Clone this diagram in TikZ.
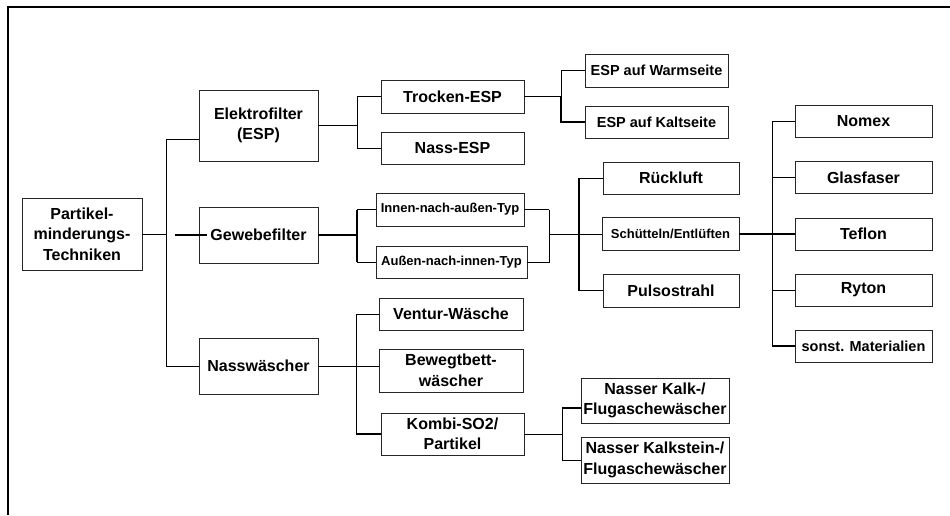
\documentclass[tikz,border=0pt]{standalone}
\usepackage{fontspec}
\setmainfont{Liberation Sans}
\tikzset{
  box/.style={draw=black!85,line width=.9pt,inner sep=0pt,align=center,font=\fontsize{16}{20.5}\selectfont\bfseries},
  boxm/.style={box,font=\fontsize{14.5}{18}\selectfont\bfseries},
  boxs/.style={box,font=\fontsize{13}{16}\selectfont\bfseries},
  ln/.style={line width=.8pt},
  tk/.style={line width=1.6pt}
}
\begin{document}
\begin{tikzpicture}[x=1pt,y=-1pt]
\useasboundingbox (0,0) rectangle (950,515);
\draw[line width=1.8pt] (8,515) -- (8,7) -- (950,7);
\node[box,minimum width=120,minimum height=72] (root) at (82,234) {Partikel-\\minderungs-\\Techniken};
\node[box,minimum width=119,minimum height=71] (elek) at (258.5,125.5) {Elektrofilter\\(ESP)};
\node[box,minimum width=119,minimum height=56] (gewebe) at (258.5,235) {Gewebefilter};
\node[box,minimum width=119,minimum height=56] (nass) at (258.5,366) {Nassw\"ascher};
\node[box,minimum width=143,minimum height=33] (trocken) at (452.5,96.5) {Trocken-ESP};
\node[box,minimum width=143,minimum height=32] (nesp) at (452.5,148) {Nass-ESP};
\node[boxm,minimum width=143,minimum height=33] (warm) at (656.5,70.5) {ESP auf Warmseite};
\node[boxm,minimum width=143,minimum height=32] (kalt) at (656.5,122) {ESP auf Kaltseite};
\node[boxs,minimum width=148,minimum height=33] (innen) at (450,209.5) {Innen-nach-au\ss en-Typ};
\node[boxs,minimum width=151,minimum height=32] (aussen) at (451.5,262) {Au\ss en-nach-innen-Typ};
\node[box,minimum width=136,minimum height=32] (rueck) at (671,178) {R\"uckluft};
\node[boxs,minimum width=137,minimum height=33] (schuett) at (670.5,234) {Sch\"utteln/Entl\"uften};
\node[box,minimum width=136,minimum height=33] (puls) at (671,290.5) {Pulsostrahl};
\foreach \n/\t/\y in {nomex/Nomex/121,glas/Glasfaser/177.5,teflon/Teflon/234,ryton/Ryton/290}
  \node[box,minimum width=137,minimum height=32] (\n) at (863.5,\y) {\t};
\node[boxm,minimum width=137,minimum height=32] (sonst) at (863.5,346) {sonst. Materialien};
\node[box,minimum width=144,minimum height=32] (ventur) at (451,314) {Ventur-W\"asche};
\node[box,minimum width=144,minimum height=43] (bewegt) at (451,370.5) {Bewegtbett-\\w\"ascher};
\node[box,minimum width=143,minimum height=42] (kombi) at (452.5,434) {Kombi-SO2/\\Partikel};
\node[box,minimum width=148,minimum height=45] (kalk) at (655,400.5) {Nasser Kalk-/\\Flugaschew\"ascher};
\node[box,minimum width=148,minimum height=46] (kalkst) at (655,460) {Nasser Kalkstein-/\\Flugaschew\"ascher};
\coordinate (tr1) at (166,139);
\coordinate (tr2) at (166,366);
\coordinate (gw0) at (175,235);
\coordinate (j1) at (357,122);
\coordinate (j2) at (561,96.5);
\coordinate (j3) at (357,235);
\coordinate (j4) at (549,234);
\coordinate (j5) at (579,234);
\coordinate (j6) at (772,234);
\coordinate (j7) at (356,366);
\coordinate (j8) at (562,434);
\coordinate (k1) at ([yshift=-7.5pt]kalk.west);
\draw[ln] (root.east) -- (root.east -| tr1);
\draw[ln] (elek.west |- tr1) -- (tr1) -- (tr2) -- (nass.west |- tr2);
\draw[tk] (gw0) -- (gewebe.west) -- ++(8,0);
\draw[ln] (elek.east) -- (elek.east -| j1);
\draw[ln] (trocken.west) -- (trocken.west -| j1) |- (nesp.west);
\draw[ln] (trocken.east) -- (j2);
\draw[ln] (warm.west) -- (warm.west -| j2) -- (j2);
\draw[tk] (j2) |- (kalt.west);
\draw[tk] (gewebe.east) -- (j3);
\draw[tk] (innen.west -| j3) -- (aussen.west -| j3);
\draw[ln] (innen.west) -- (innen.west -| j3);
\draw[ln] (aussen.west) -- (aussen.west -| j3);
\draw[tk] (innen.east) -- (innen.east -| j4);
\draw[ln] (innen.east -| j4) -- (aussen.east -| j4) -- (aussen.east);
\draw[ln] (j4) -- (schuett.west);
\draw[ln] (rueck.west) -- (rueck.west -| j5);
\draw[tk] (rueck.west -| j5) -- (puls.west -| j5) -- (puls.west);
\draw[tk] (schuett.east) -- (teflon.west);
\draw[ln] (nomex.west -| j6) -- (sonst.west -| j6);
\foreach \n in {nomex,glas,ryton}
  \draw[ln] (\n.west) -- (\n.west -| j6);
\draw[tk] (sonst.west) -- (sonst.west -| j6);
\draw[ln] (nass.east) -- (nass.east -| bewegt.west);
\draw[ln] (ventur.west) -- (ventur.west -| j7) -- (kombi.west -| j7);
\draw[tk] (kombi.west -| j7) -- (kombi.west);
\draw[ln] (kombi.east) -- (j8);
\draw[tk] (k1) -- (k1 -| j8);
\draw[ln] (k1 -| j8) -- (kalkst.west -| j8) -- (kalkst.west);
\end{tikzpicture}
\end{document}
